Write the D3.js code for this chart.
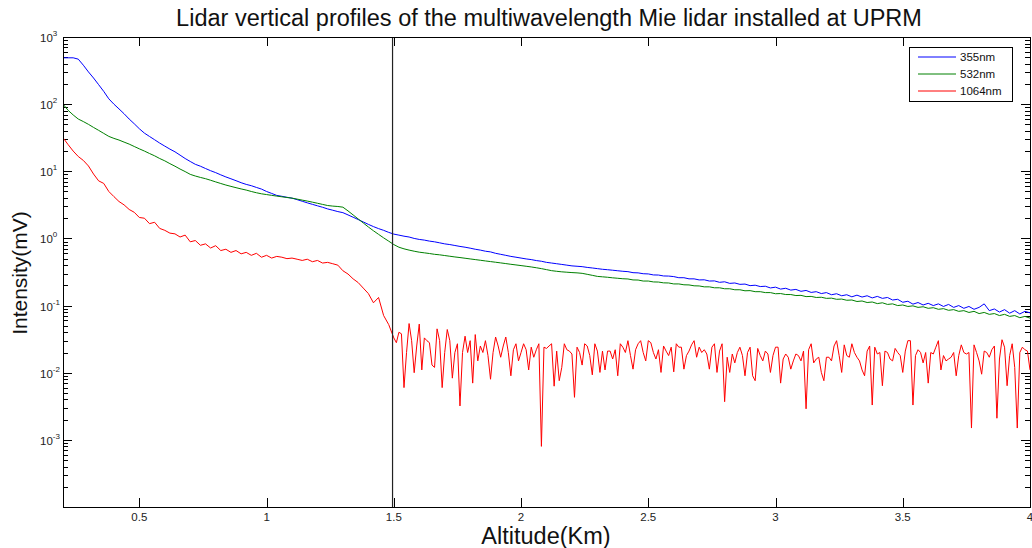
<!DOCTYPE html>
<html>
<head>
<meta charset="utf-8">
<script src="https://cdn.jsdelivr.net/npm/d3@7"></script>
<style>
body { margin: 0; background: #fff; }
text { font-family: "Liberation Sans", Arial, sans-serif; }
</style>
</head>
<body>
<div id="chart"></div>
<script>
// altitude grid of the samples (km)
var altStart = 0.2;
var altStep = 0.02;
// the noisy 1064nm tail is read at a finer step
var redTailStart = 1.51;
var redTailStep = 0.01;

// intensities (mV), one value per altitude step, rows of 10
var blue355 = [
	490, 490, 490, 468, 380, 302, 245, 195, 155, 120,          // 0.20
	100, 85, 72, 60, 51, 43, 37, 33, 29.5, 26.3,               // 0.40
	23.7, 21.4, 19.5, 17.4, 15.5, 14.0, 12.7, 11.9, 11.0, 10.2,
	9.55, 8.85, 8.24, 7.73, 7.24, 6.76, 6.38, 6.10, 5.75, 5.43, // 0.80
	5.0, 4.68, 4.37, 4.24, 4.10, 3.98, 3.78, 3.58, 3.39, 3.22,
	3.06, 2.91, 2.75, 2.63, 2.51, 2.42, 2.24, 2.07, 1.91, 1.76, // 1.20
	1.62, 1.50, 1.40, 1.32, 1.23, 1.16, 1.12, 1.08, 1.05, 1.0,
	0.966, 0.944, 0.912, 0.89, 0.86, 0.83, 0.81, 0.785, 0.76, 0.74, // 1.60
	0.716, 0.69, 0.67, 0.645, 0.63, 0.60, 0.58, 0.56, 0.54, 0.525,
	0.51, 0.495, 0.484, 0.468, 0.457, 0.44, 0.43, 0.42, 0.41, 0.40, // 2.00
	0.39, 0.385, 0.38, 0.37, 0.363, 0.355, 0.347, 0.342, 0.336, 0.33,
	0.324, 0.32, 0.309, 0.307, 0.298, 0.296, 0.286, 0.285, 0.276, 0.275, // 2.40
	0.27, 0.26, 0.26, 0.25, 0.25, 0.241, 0.242, 0.232, 0.233, 0.222,
	0.226, 0.214, 0.217, 0.207, 0.209, 0.198, 0.201, 0.192, 0.194, 0.183, // 2.80
	0.188, 0.176, 0.181, 0.17, 0.174, 0.163, 0.168, 0.157, 0.161, 0.151,
	0.156, 0.145, 0.15, 0.14, 0.145, 0.135, 0.143, 0.134, 0.14, 0.13, // 3.20
	0.137, 0.128, 0.132, 0.121, 0.124, 0.112, 0.116, 0.105, 0.111, 0.102,
	0.108, 0.1, 0.106, 0.097, 0.104, 0.094, 0.1, 0.091, 0.097, 0.088, // 3.60
	0.094, 0.106, 0.084, 0.089, 0.08, 0.087, 0.077, 0.084, 0.075, 0.082,
	0.078                                                       // 4.00
];
var green532 = [
	100, 81, 69, 60, 55, 50, 45, 40.7, 36.7, 33.1,
	30.9, 29.2, 27.2, 25.4, 23.4, 21.6, 20.0, 18.4, 17.0, 15.5,
	14.3, 13.0, 11.9, 10.8, 9.9, 9.0, 8.5, 8.1, 7.76, 7.35,
	6.95, 6.58, 6.24, 5.96, 5.7, 5.46, 5.25, 5.0, 4.79, 4.62,
	4.5, 4.38, 4.27, 4.17, 4.07, 3.98, 3.85, 3.72, 3.6, 3.47,
	3.34, 3.21, 3.09, 3.03, 2.99, 2.92, 2.57, 2.24, 1.95, 1.7,
	1.48, 1.30, 1.15, 1.02, 0.91, 0.81, 0.74, 0.70, 0.67, 0.645,
	0.624, 0.61, 0.596, 0.58, 0.57, 0.556, 0.543, 0.53, 0.519, 0.507,
	0.495, 0.484, 0.473, 0.462, 0.452, 0.442, 0.432, 0.422, 0.412, 0.403,
	0.394, 0.385, 0.376, 0.366, 0.355, 0.343, 0.331, 0.324, 0.318, 0.314,
	0.31, 0.307, 0.302, 0.292, 0.282, 0.272, 0.268, 0.264, 0.259, 0.255,
	0.251, 0.249, 0.241, 0.24, 0.232, 0.232, 0.225, 0.224, 0.218, 0.217,
	0.21, 0.21, 0.204, 0.203, 0.197, 0.196, 0.19, 0.19, 0.184, 0.184,
	0.178, 0.178, 0.172, 0.172, 0.166, 0.167, 0.161, 0.161, 0.156, 0.156,
	0.15, 0.151, 0.146, 0.146, 0.141, 0.142, 0.136, 0.137, 0.132, 0.133,
	0.128, 0.129, 0.124, 0.125, 0.12, 0.121, 0.115, 0.117, 0.111, 0.113,
	0.107, 0.11, 0.104, 0.106, 0.1, 0.102, 0.097, 0.099, 0.094, 0.096,
	0.091, 0.093, 0.088, 0.09, 0.085, 0.087, 0.082, 0.084, 0.079, 0.082,
	0.076, 0.079, 0.074, 0.076, 0.071, 0.074, 0.069, 0.071, 0.066, 0.069,
	0.065
];
// 0.20 .. 1.50 km, step 0.02
var red1064 = [
	31.6, 25, 20, 16.6, 14.5, 12, 9.1, 7.2, 6.6, 5.0,
	4.2, 3.55, 3.16, 2.7, 2.45, 2.05, 2.0, 1.66, 1.74, 1.41,
	1.32, 1.2, 1.17, 1.05, 1.12, 0.89, 0.93, 0.79, 0.83, 0.72,
	0.78, 0.66, 0.69, 0.62, 0.66, 0.59, 0.62, 0.56, 0.60, 0.525,
	0.56, 0.51, 0.54, 0.525, 0.50, 0.51, 0.49, 0.47, 0.49, 0.45,
	0.47, 0.43, 0.44, 0.42, 0.40, 0.33, 0.295, 0.25, 0.22, 0.182,
	0.151, 0.11, 0.132, 0.071, 0.052, 0.033
];
// 1.51 .. 4.00 km, step 0.01
var red1064Tail = [
	0.028, 0.04, 0.038, 0.006, 0.02, 0.054, 0.03, 0.01, 0.025, 0.053,     // 1.51
	0.011, 0.033, 0.03, 0.028, 0.013, 0.012, 0.045, 0.03, 0.006, 0.02,    // 1.61
	0.044, 0.03, 0.0083, 0.02, 0.027, 0.0032, 0.02, 0.035, 0.02, 0.03,    // 1.71
	0.007, 0.037, 0.015, 0.025, 0.02, 0.03, 0.018, 0.008, 0.02, 0.034,    // 1.81
	0.025, 0.017, 0.025, 0.034, 0.02, 0.009, 0.022, 0.027, 0.015, 0.02,   // 1.91
	0.027, 0.022, 0.011, 0.024, 0.017, 0.022, 0.027, 0.0008, 0.024, 0.023, // 2.01
	0.025, 0.027, 0.0063, 0.021, 0.0076, 0.012, 0.027, 0.022, 0.021, 0.019, // 2.11
	0.0043, 0.024, 0.02, 0.013, 0.027, 0.025, 0.018, 0.0093, 0.027, 0.021, // 2.21
	0.0101, 0.021, 0.011, 0.021, 0.021, 0.016, 0.022, 0.009, 0.027, 0.024, // 2.31
	0.02, 0.030, 0.018, 0.0113, 0.022, 0.027, 0.03, 0.02, 0.015, 0.03,    // 2.41
	0.028, 0.02, 0.016, 0.022, 0.0101, 0.025, 0.021, 0.018, 0.024, 0.0103, // 2.51
	0.027, 0.024, 0.024, 0.0113, 0.018, 0.021, 0.026, 0.030, 0.017, 0.024, // 2.61
	0.02, 0.022, 0.019, 0.0113, 0.024, 0.027, 0.0101, 0.021, 0.027, 0.0037, // 2.71
	0.017, 0.0101, 0.019, 0.014, 0.02, 0.024, 0.018, 0.009, 0.02, 0.024,  // 2.81
	0.009, 0.0076, 0.023, 0.018, 0.015, 0.021, 0.019, 0.0101, 0.018, 0.024, // 2.91
	0.024, 0.007, 0.016, 0.019, 0.017, 0.0113, 0.015, 0.019, 0.018, 0.015, // 3.01
	0.021, 0.0029, 0.022, 0.027, 0.014, 0.016, 0.017, 0.0101, 0.0076, 0.017, // 3.11
	0.017, 0.015, 0.025, 0.03, 0.018, 0.0101, 0.026, 0.018, 0.017, 0.027, // 3.21
	0.02, 0.017, 0.015, 0.011, 0.009, 0.021, 0.025, 0.0033, 0.024, 0.019, // 3.31
	0.02, 0.0064, 0.021, 0.02, 0.016, 0.015, 0.023, 0.02, 0.018, 0.0101,  // 3.41
	0.021, 0.03, 0.03, 0.0033, 0.018, 0.022, 0.02, 0.014, 0.02, 0.007,    // 3.51
	0.02, 0.019, 0.024, 0.03, 0.011, 0.018, 0.015, 0.016, 0.017, 0.02,    // 3.61
	0.009, 0.018, 0.026, 0.02, 0.019, 0.02, 0.0015, 0.026, 0.02, 0.015,   // 3.71
	0.0095, 0.021, 0.02, 0.017, 0.022, 0.025, 0.0021, 0.016, 0.031, 0.024, // 3.81
	0.0064, 0.018, 0.027, 0.012, 0.0015, 0.02, 0.024, 0.022, 0.021, 0.011  // 3.91
];

var seriesNames = ["355nm", "532nm", "1064nm"];
var seriesColors = ["#0000ff", "#008000", "#ff0000"];
var xTicks = [0.5, 1, 1.5, 2, 2.5, 3, 3.5, 4];
var yExponents = [-3, -2, -1, 0, 1, 2, 3];
var markerAltitude = 1.495;
var titleText = "Lidar vertical profiles of the multiwavelength Mie lidar installed at UPRM";

var W = 1032, H = 548;
var plotL = 63, plotR = 1030, plotT = 37, plotB = 507;

var x = d3.scaleLinear().domain([0.2, 4]).range([plotL, plotR]);
var y = d3.scaleLog().domain([1e-4, 1e3]).range([plotB, plotT]);

function toPoints(values, start, step) {
	return values.map(function(v, i) { return { alt: start + i * step, val: v }; });
}

var series = [
	toPoints(blue355, altStart, altStep),
	toPoints(green532, altStart, altStep),
	toPoints(red1064, altStart, altStep).concat(toPoints(red1064Tail, redTailStart, redTailStep))
];

var svg = d3.select("#chart").append("svg")
	.attr("width", W)
	.attr("height", H);

svg.append("rect").attr("width", W).attr("height", H).attr("fill", "#fff");

svg.append("defs").append("clipPath").attr("id", "plotclip")
	.append("rect")
	.attr("x", plotL).attr("y", plotT)
	.attr("width", plotR - plotL).attr("height", plotB - plotT);

// minor log ticks 2..9 in each decade
var minorTicks = [];
for (var e = -4; e <= 2; e++) {
	for (var m = 2; m <= 9; m++) minorTicks.push(m * Math.pow(10, e));
}
var majorY = yExponents.map(function(k) { return Math.pow(10, k); });

function styleAxis(g) {
	g.select(".domain").remove();
	g.selectAll("line").attr("stroke", "#000").attr("shape-rendering", "crispEdges");
	g.selectAll("text").remove();
}

svg.append("g").attr("transform", "translate(0," + plotB + ")")
	.call(d3.axisBottom(x).tickValues(xTicks).tickSize(-9).tickSizeOuter(0)).call(styleAxis);
svg.append("g").attr("transform", "translate(0," + plotT + ")")
	.call(d3.axisTop(x).tickValues(xTicks).tickSize(-9).tickSizeOuter(0)).call(styleAxis);
svg.append("g").attr("transform", "translate(" + plotL + ",0)")
	.call(d3.axisLeft(y).tickValues(majorY).tickSize(-9).tickSizeOuter(0)).call(styleAxis);
svg.append("g").attr("transform", "translate(" + plotL + ",0)")
	.call(d3.axisLeft(y).tickValues(minorTicks).tickSize(-5).tickSizeOuter(0)).call(styleAxis);
svg.append("g").attr("transform", "translate(" + plotR + ",0)")
	.call(d3.axisRight(y).tickValues(majorY).tickSize(-9).tickSizeOuter(0)).call(styleAxis);
svg.append("g").attr("transform", "translate(" + plotR + ",0)")
	.call(d3.axisRight(y).tickValues(minorTicks).tickSize(-5).tickSizeOuter(0)).call(styleAxis);

// x tick labels
svg.append("g").selectAll("text")
	.data(xTicks)
	.enter()
	.append("text")
	.attr("x", function(d) { return x(d); })
	.attr("y", plotB + 14)
	.attr("text-anchor", "middle")
	.attr("font-size", 11.5)
	.attr("fill", "#222")
	.text(function(d) { return d; });

// y tick labels 10^k
var ylab = svg.append("g").selectAll("text")
	.data(yExponents)
	.enter()
	.append("text")
	.attr("x", 40)
	.attr("y", function(d) { return y(Math.pow(10, d)) + 5; })
	.attr("font-size", 11.5)
	.attr("fill", "#222");
ylab.append("tspan").text("10");
ylab.append("tspan").attr("dy", -6).attr("font-size", 8).text(function(d) { return d; });

// series lines
var line = d3.line()
	.x(function(d) { return x(d.alt); })
	.y(function(d) { return y(d.val); });

var lines = svg.append("g").attr("clip-path", "url(#plotclip)");
lines.selectAll("path")
	.data(series)
	.enter()
	.append("path")
	.attr("d", line)
	.attr("fill", "none")
	.attr("stroke", function(d, i) { return seriesColors[i]; })
	.attr("stroke-width", 1);

// vertical marker
lines.append("line")
	.attr("x1", x(markerAltitude)).attr("x2", x(markerAltitude))
	.attr("y1", plotT).attr("y2", plotB)
	.attr("stroke", "#222")
	.attr("stroke-width", 1.2);

// frame
svg.append("rect")
	.attr("x", plotL).attr("y", plotT)
	.attr("width", plotR - plotL).attr("height", plotB - plotT)
	.attr("fill", "none")
	.attr("stroke", "#000")
	.attr("stroke-width", 1)
	.attr("shape-rendering", "crispEdges");

// legend
var legend = svg.append("g");
legend.append("rect")
	.attr("x", 909).attr("y", 47).attr("width", 103).attr("height", 54)
	.attr("fill", "#fff").attr("stroke", "#000").attr("shape-rendering", "crispEdges");
var items = legend.selectAll("g.item")
	.data(seriesNames)
	.enter()
	.append("g")
	.attr("transform", function(d, i) { return "translate(0," + (57 + i * 17) + ")"; });
items.append("line")
	.attr("x1", 918).attr("x2", 956).attr("y1", 0).attr("y2", 0)
	.attr("stroke", function(d, i) { return seriesColors[i]; });
items.append("text")
	.attr("x", 960).attr("y", 4)
	.attr("font-size", 11.5)
	.attr("fill", "#111")
	.text(function(d) { return d; });

// title and axis labels
svg.append("text")
	.attr("x", 549).attr("y", 26)
	.attr("text-anchor", "middle")
	.attr("font-size", 23.5)
	.attr("fill", "#111")
	.text(titleText);

svg.append("text")
	.attr("x", 546).attr("y", 544)
	.attr("text-anchor", "middle")
	.attr("font-size", 23.5)
	.attr("fill", "#111")
	.text("Altitude(Km)");

svg.append("text")
	.attr("transform", "translate(27,273) rotate(-90)")
	.attr("text-anchor", "middle")
	.attr("font-size", 21)
	.attr("fill", "#111")
	.text("Intensity(mV)");
</script>
</body>
</html>
